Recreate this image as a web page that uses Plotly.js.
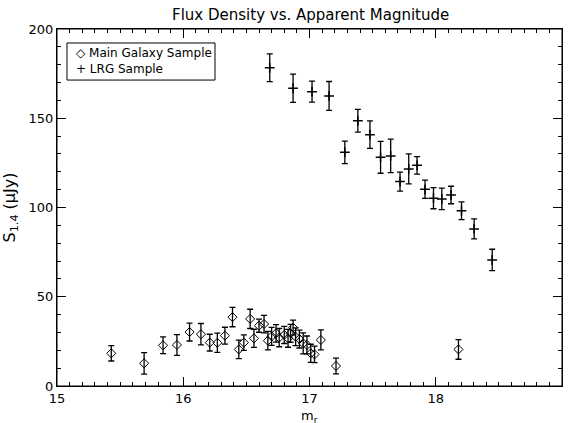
<!DOCTYPE html>
<html>
<head>
<meta charset="utf-8">
<script src="https://cdn.plot.ly/plotly-3.0.1.min.js"></script>
<style>html,body{margin:0;padding:0;background:#fff;}#chart{width:570px;height:423px;}</style>
</head>
<body>
<div id="chart"></div>
<script>
// Main Galaxy Sample
const mainMag = [15.43, 15.69, 15.84, 15.95, 16.05, 16.14, 16.21, 16.27, 16.33, 16.39, 16.44, 16.48, 16.53, 16.56, 16.60, 16.64, 16.67, 16.70, 16.735, 16.76, 16.80, 16.83, 16.85, 16.87, 16.89, 16.92, 16.95, 16.98, 17.01, 17.04, 17.09, 17.21, 18.18];
const mainFlux = [18.3, 12.7, 22.8, 23.0, 30.2, 29.0, 24.3, 24.2, 28.2, 38.6, 20.5, 24.3, 37.6, 26.7, 33.8, 34.7, 25.4, 27.8, 29.5, 27.1, 28.6, 26.7, 29.5, 32.7, 27.6, 26.3, 23.9, 23.0, 18.3, 17.7, 25.8, 11.2, 20.5];
const mainErr = [4.3, 6.0, 4.7, 5.8, 5.0, 6.0, 4.7, 5.4, 4.7, 5.4, 5.2, 4.3, 5.4, 5.1, 3.7, 4.9, 5.2, 5.0, 4.9, 5.1, 4.8, 5.0, 5.0, 4.2, 5.0, 5.0, 5.9, 5.0, 5.1, 4.6, 5.6, 4.4, 5.5];
// LRG Sample
const lrgMag = [16.685, 16.87, 17.02, 17.155, 17.28, 17.383, 17.479, 17.563, 17.643, 17.717, 17.786, 17.852, 17.915, 17.982, 18.048, 18.121, 18.204, 18.304, 18.447];
const lrgFlux = [178.3, 166.8, 164.9, 162.5, 130.9, 148.6, 140.8, 128.1, 128.9, 114.5, 121.6, 123.6, 110.2, 105.2, 104.8, 107.0, 98.2, 88.0, 70.6];
const lrgErr = [7.8, 7.9, 5.9, 8.1, 6.3, 6.4, 7.7, 8.9, 9.4, 5.3, 8.4, 4.9, 5.1, 5.9, 6.0, 4.9, 5.0, 5.6, 6.0];
// Text
const titleText = 'Flux Density vs. Apparent Magnitude';
const xTitle = 'm<sub>r</sub>';
const yTitle = 'S<sub>1.4</sub> (μJy)';
const seriesNames = ['Main Galaxy Sample', 'LRG Sample'];
const legendGlyphs = ['◇', '+'];

const FONT = 'DejaVu Sans, Liberation Sans, sans-serif';
const traces = [
  {
    x: mainMag, y: mainFlux, name: seriesNames[0], type: 'scatter', mode: 'markers',
    marker: {symbol: 'diamond-open', size: 7, color: 'black', line: {width: 1, color: 'black'}},
    error_y: {type: 'data', array: mainErr, visible: true, color: 'black', thickness: 1.3, width: 3}
  },
  {
    x: lrgMag, y: lrgFlux, name: seriesNames[1], type: 'scatter', mode: 'markers',
    marker: {symbol: 'cross-thin', size: 7, color: 'black', line: {width: 1.5, color: 'black'}},
    error_y: {type: 'data', array: lrgErr, visible: true, color: 'black', thickness: 1.3, width: 3}
  }
];
function makeAxis(extra) {
  return Object.assign({
    showgrid: false, zeroline: false, showline: true, linecolor: '#000',
    mirror: 'allticks', ticks: 'inside', tickcolor: '#000'
  }, extra);
}
const legendItems = seriesNames.map((n, i) => ({
  xref: 'paper', yref: 'paper', x: 0.034, y: i === 0 ? 0.933 : 0.888,
  xanchor: 'left', yanchor: 'middle', showarrow: false,
  text: legendGlyphs[i] + ' ' + n,
  font: {size: 12}
}));
const xTitleAnn = {
  xref: 'paper', yref: 'paper', x: 0.5, y: -0.086, xanchor: 'center', yanchor: 'middle',
  showarrow: false, text: xTitle
};
const layout = {
  width: 570, height: 423,
  margin: {l: 57, r: 8, t: 29, b: 37},
  font: {family: FONT, size: 13, color: '#000'},
  showlegend: false,
  title: {text: titleText, font: {size: 15}, x: 0.545, xanchor: 'center', y: 0.965, yanchor: 'middle'},
  xaxis: makeAxis({
    range: [15, 19], dtick: 1, ticklen: 9,
    minor: {ticks: 'inside', dtick: 0.1, ticklen: 4, tickcolor: '#000'}
  }),
  yaxis: makeAxis({
    range: [0, 200], dtick: 50, ticklen: 9,
    minor: {ticks: 'inside', dtick: 10, ticklen: 4, tickcolor: '#000'},
    title: {text: yTitle}
  }),
  shapes: [
    {type: 'rect', xref: 'paper', yref: 'paper', x0: 0, x1: 1, y0: 0, y1: 1,
     line: {color: '#000', width: 1}, fillcolor: 'rgba(0,0,0,0)', layer: 'above'},
    {type: 'rect', xref: 'paper', yref: 'paper', x0: 0.0198, x1: 0.3129, y0: 0.857, y1: 0.9608,
     line: {color: '#000', width: 1}, fillcolor: 'rgba(0,0,0,0)'}
  ],
  annotations: legendItems.concat([xTitleAnn])
};
Plotly.newPlot('chart', traces, layout, {displayModeBar: false});
</script>
</body>
</html>
